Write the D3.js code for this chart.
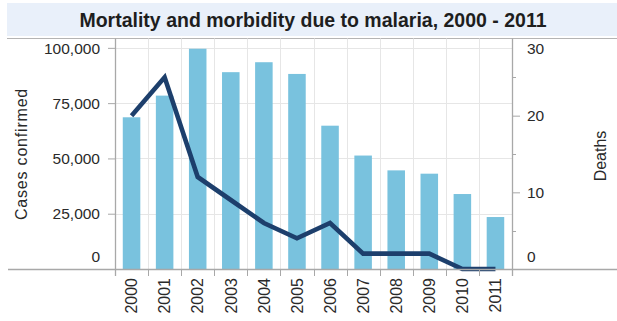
<!DOCTYPE html>
<html>
<head>
<meta charset="utf-8">
<script src="https://cdn.jsdelivr.net/npm/d3@7"></script>
<style>
  html, body { margin: 0; padding: 0; background: #fff; }
  svg { display: block; font-family: "Liberation Sans", Arial, sans-serif; }
</style>
</head>
<body>
<svg id="chart" width="617" height="321"></svg>
<script>
// Malaria cases (bars, left axis) and deaths (line, right axis)
const years = ["2000", "2001", "2002", "2003", "2004", "2005", "2006", "2007", "2008", "2009", "2010", "2011"];
const casesConfirmed = [68600, 78400, 99600, 89000, 93500, 88200, 64800, 51300, 44600, 43100, 33900, 23500];
const deaths = [20, 25, 12, 9, 6, 4, 6, 2, 2, 2, 0, 0];
const caseTicks = [0, 25000, 50000, 75000, 100000];
const deathTicks = [0, 10, 20, 30];
const deathMinorTicks = [5, 15, 25];

const chartTitle = "Mortality and morbidity due to malaria, 2000 - 2011";
const leftTitle = "Cases confirmed";
const rightTitle = "Deaths";

const svg = d3.select("#chart");
const W = 617;
const plot = { left: 115, right: 512, top: 39, bottom: 269 };

const x = d3.scaleBand().domain(years).range([plot.left, plot.right])
  .paddingInner(0.47).paddingOuter(0.235);
const yCases = d3.scaleLinear().domain([0, 104000]).range([plot.bottom, plot.top]);
const yDeaths = d3.scaleLinear().domain([0, 30]).range([plot.bottom, plot.top]);

// title band
svg.append("rect").attr("x", 7).attr("y", 3).attr("width", W - 7).attr("height", 33)
  .attr("fill", "#e9f0fa");
svg.append("line").attr("x1", 7).attr("x2", W).attr("y1", 38.5).attr("y2", 38.5)
  .attr("stroke", "#b4b4b4").attr("stroke-width", 1);
svg.append("text").attr("x", 313).attr("y", 27).attr("text-anchor", "middle")
  .attr("font-size", 19.5).attr("font-weight", "bold").attr("fill", "#1e1e1e")
  .text(chartTitle);

// gridlines
const bounds = d3.range(years.length + 1).map(i => plot.left + i * x.step());
svg.append("g").selectAll("line").data(caseTicks.filter(d => d > 0)).join("line")
  .attr("x1", plot.left).attr("x2", plot.right)
  .attr("y1", d => Math.round(yCases(d)) + 0.5).attr("y2", d => Math.round(yCases(d)) + 0.5)
  .attr("stroke", "#e6e6e6");
svg.append("g").selectAll("line").data(bounds.slice(1, -1)).join("line")
  .attr("x1", d => Math.round(d) + 0.5).attr("x2", d => Math.round(d) + 0.5)
  .attr("y1", 38.5).attr("y2", plot.bottom)
  .attr("stroke", "#e6e6e6");

// bars
svg.append("g").selectAll("rect").data(years).join("rect")
  .attr("x", (d) => x(d))
  .attr("width", x.bandwidth())
  .attr("y", (d, i) => yCases(casesConfirmed[i]))
  .attr("height", (d, i) => plot.bottom - yCases(casesConfirmed[i]))
  .attr("fill", "#79c2de");

// deaths line
const line = d3.line()
  .x((d, i) => x(years[i]) + x.bandwidth() / 2)
  .y(d => yDeaths(d));
svg.append("path").datum(deaths)
  .attr("d", line)
  .attr("fill", "none")
  .attr("stroke", "#1d3f6c")
  .attr("stroke-width", 4.6)
  .attr("stroke-linejoin", "miter");

// keeps end labels inside the plot's vertical extent
function clampLabels(g, scale) {
  g.selectAll(".tick").each(function (d) {
    const p = scale(d);
    const c = Math.min(Math.max(p, plot.top + 9.5), plot.bottom - 12);
    d3.select(this).select("text").attr("y", c - p);
  });
}

const axisColor = "#a8a8a8";

// left axis
const gLeft = svg.append("g").attr("transform", `translate(${plot.left},0)`)
  .call(d3.axisLeft(yCases).tickValues(caseTicks).tickSize(7).tickPadding(8)
    .tickFormat(d3.format(",")));
gLeft.select(".domain").remove();
gLeft.selectAll(".tick line").attr("stroke", axisColor)
  .attr("display", d => d === 0 ? "none" : null);
gLeft.selectAll("text").attr("font-size", 15.5).attr("fill", "#2a2a2a")
  .attr("font-family", "Liberation Sans, Arial, sans-serif");
clampLabels(gLeft, yCases);

// right axis
const gRight = svg.append("g").attr("transform", `translate(${plot.right},0)`)
  .call(d3.axisRight(yDeaths).tickValues(deathTicks).tickSize(8).tickPadding(7));
gRight.select(".domain").remove();
gRight.selectAll(".tick line").attr("stroke", axisColor)
  .attr("display", d => (d === 0 || d === 30) ? "none" : null);
gRight.selectAll("text").attr("font-size", 15.5).attr("fill", "#2a2a2a")
  .attr("font-family", "Liberation Sans, Arial, sans-serif");
clampLabels(gRight, yDeaths);
svg.append("g").selectAll("line").data(deathMinorTicks).join("line")
  .attr("x1", plot.right).attr("x2", plot.right + 4)
  .attr("y1", d => Math.round(yDeaths(d)) + 0.5).attr("y2", d => Math.round(yDeaths(d)) + 0.5)
  .attr("stroke", axisColor);

// bottom axis: year labels at band centres, ticks at band edges
const gBottom = svg.append("g").attr("transform", `translate(0,${plot.bottom})`)
  .call(d3.axisBottom(x).tickSize(0));
gBottom.select(".domain").remove();
gBottom.selectAll("text")
  .attr("transform", "rotate(-90)")
  .attr("text-anchor", "end")
  .attr("x", -9).attr("y", 0).attr("dy", "0.36em")
  .attr("font-size", 16).attr("fill", "#2a2a2a")
  .attr("font-family", "Liberation Sans, Arial, sans-serif");
svg.append("g").selectAll("line").data(bounds).join("line")
  .attr("x1", d => Math.round(d) + 0.5).attr("x2", d => Math.round(d) + 0.5)
  .attr("y1", plot.bottom).attr("y2", plot.bottom + 7)
  .attr("stroke", axisColor);

// axis lines
svg.append("line").attr("x1", 8).attr("x2", W)
  .attr("y1", plot.bottom + 0.5).attr("y2", plot.bottom + 0.5)
  .attr("stroke", axisColor).attr("stroke-width", 1.3);
[plot.left, plot.right].forEach(px => {
  svg.append("line").attr("x1", px + 0.5).attr("x2", px + 0.5)
    .attr("y1", 38.5).attr("y2", plot.bottom + 7)
    .attr("stroke", axisColor).attr("stroke-width", 1.3);
});

// axis titles
svg.append("text")
  .attr("transform", `translate(27,154) rotate(-90)`)
  .attr("text-anchor", "middle").attr("font-size", 16).attr("letter-spacing", 0.8)
  .attr("fill", "#2a2a2a").text(leftTitle);
svg.append("text")
  .attr("transform", `translate(606,156) rotate(-90)`)
  .attr("text-anchor", "middle").attr("font-size", 16)
  .attr("fill", "#2a2a2a").text(rightTitle);
</script>
</body>
</html>
